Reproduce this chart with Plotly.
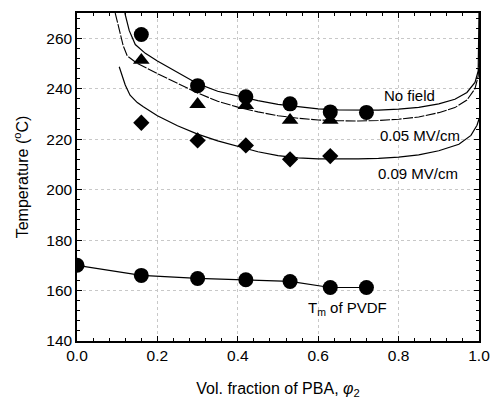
import plotly.graph_objects as go

# Measured data points
phi_nf = [0.16, 0.30, 0.42, 0.53, 0.63, 0.72]
T_nf = [261.5, 241.2, 236.8, 234.0, 230.8, 230.6]

phi_05 = [0.16, 0.30, 0.42, 0.53, 0.63]
T_05 = [251.3, 233.8, 233.4, 227.5, 227.5]

phi_09 = [0.16, 0.30, 0.42, 0.53, 0.63]
T_09 = [226.5, 219.5, 217.5, 212.0, 213.3]

phi_tm = [0.0, 0.16, 0.30, 0.42, 0.53, 0.63, 0.72]
T_tm = [170.0, 166.0, 164.8, 164.3, 163.6, 161.2, 161.2]

# Theoretical curves
cx_nf = [0.119, 0.13, 0.145, 0.17, 0.20, 0.25, 0.30, 0.35, 0.40, 0.45, 0.50, 0.55, 0.60,
         0.65, 0.70, 0.75, 0.80, 0.85, 0.90, 0.94, 0.97, 0.99, 0.998, 1.0]
cy_nf = [270, 263, 257.5, 254, 251, 246.5, 242, 239, 237, 235.3, 233.8, 232.8, 232.0,
         231.6, 231.4, 231.5, 231.9, 232.6, 234.0, 235.8, 238.5, 242.5, 247, 270]

cx_05 = [0.095, 0.105, 0.115, 0.125, 0.15, 0.20, 0.25, 0.30, 0.35, 0.40, 0.45, 0.50, 0.55,
         0.60, 0.65, 0.70, 0.75, 0.80, 0.85, 0.90, 0.94, 0.97, 0.99, 0.998, 1.0]
cy_05 = [270, 264, 257, 253, 250, 246, 242.3, 238.3, 235, 232.7, 230.8, 229.3, 228.3,
         227.6, 227.3, 227.2, 227.4, 227.9, 228.8, 230.5, 232.5, 235.5, 240, 245, 250]

cx_09 = [0.105, 0.112, 0.12, 0.132, 0.15, 0.165, 0.20, 0.25, 0.30, 0.35, 0.40, 0.45, 0.50,
         0.55, 0.60, 0.65, 0.70, 0.75, 0.80, 0.85, 0.90, 0.95, 0.98, 0.995, 1.0]
cy_09 = [248.7, 245, 241.5, 237.4, 234.5, 232.8, 229.3, 225.3, 222, 219.3, 217, 215, 213.5,
         212.6, 212.2, 212.1, 212.2, 212.4, 212.9, 213.8, 215.4, 218, 221.5, 225.5, 228]

labels = ["No field", "0.05 MV/cm", "0.09 MV/cm", "T<sub>m</sub> of PVDF"]
label_x = [0.828, 0.853, 0.848, 0.672]
label_y = [237.4, 221.6, 206.5, 153.0]

FONT = "Liberation Sans, Arial, sans-serif"

fig = go.Figure()
line = dict(color="black", width=1.2)
fig.add_trace(go.Scatter(x=cx_nf, y=cy_nf, mode="lines", line=line, hoverinfo="skip"))
fig.add_trace(go.Scatter(x=cx_05, y=cy_05, mode="lines",
                         line=dict(color="black", width=1.1, dash="10px,1.5px"), hoverinfo="skip"))
fig.add_trace(go.Scatter(x=cx_09, y=cy_09, mode="lines", line=line, hoverinfo="skip"))

fig.add_trace(go.Scatter(x=phi_nf, y=T_nf, mode="markers",
                         marker=dict(symbol="circle", size=15, color="black")))
fig.add_trace(go.Scatter(x=phi_05, y=T_05, mode="markers",
                         marker=dict(symbol="triangle-up", size=14.5, color="black")))
fig.add_trace(go.Scatter(x=phi_09, y=T_09, mode="markers",
                         marker=dict(symbol="diamond", size=12.5, color="black")))
fig.add_trace(go.Scatter(x=phi_tm, y=T_tm, mode="lines+markers",
                         line=dict(color="black", width=1.2),
                         marker=dict(symbol="circle", size=15, color="black")))

for t, x, y in zip(labels, label_x, label_y):
    fig.add_annotation(x=x, y=y, text=t, showarrow=False,
                       font=dict(family=FONT, size=15, color="black"))

axis_common = dict(
    showline=True, linecolor="black", linewidth=1.5, mirror="ticks",
    ticks="inside", ticklen=5, tickwidth=1, tickcolor="black",
    showgrid=True, gridcolor="#c8c8c8", griddash="dot", gridwidth=1,
    zeroline=False, ticklabeloverflow="allow",
    tickfont=dict(family=FONT, size=15.5, color="black"),
)

fig.update_xaxes(
    range=[0, 1], tick0=0, dtick=0.2, tickformat=".1f",
    minor=dict(ticks="inside", ticklen=3, dtick=0.04, tickcolor="black", showgrid=False),
    title=dict(text="Vol. fraction of PBA, <i>φ</i><sub>2</sub>",
               font=dict(family=FONT, size=16, color="black"), standoff=19),
    **axis_common,
)
fig.update_yaxes(
    range=[140, 270], tick0=140, dtick=20,
    minor=dict(ticks="inside", ticklen=3, dtick=4, tickcolor="black", showgrid=False),
    title=dict(text="Temperature (<sup>o</sup>C)",
               font=dict(family=FONT, size=16, color="black"), standoff=14),
    **axis_common,
)

fig.update_layout(
    width=492, height=401,
    margin=dict(l=77, r=13, t=13, b=60, autoexpand=False),
    plot_bgcolor="white", paper_bgcolor="white",
    showlegend=False,
)

fig.write_html("out.html", config={"displayModeBar": False},
               post_script="document.body.style.margin='0';document.body.style.padding='0';")
